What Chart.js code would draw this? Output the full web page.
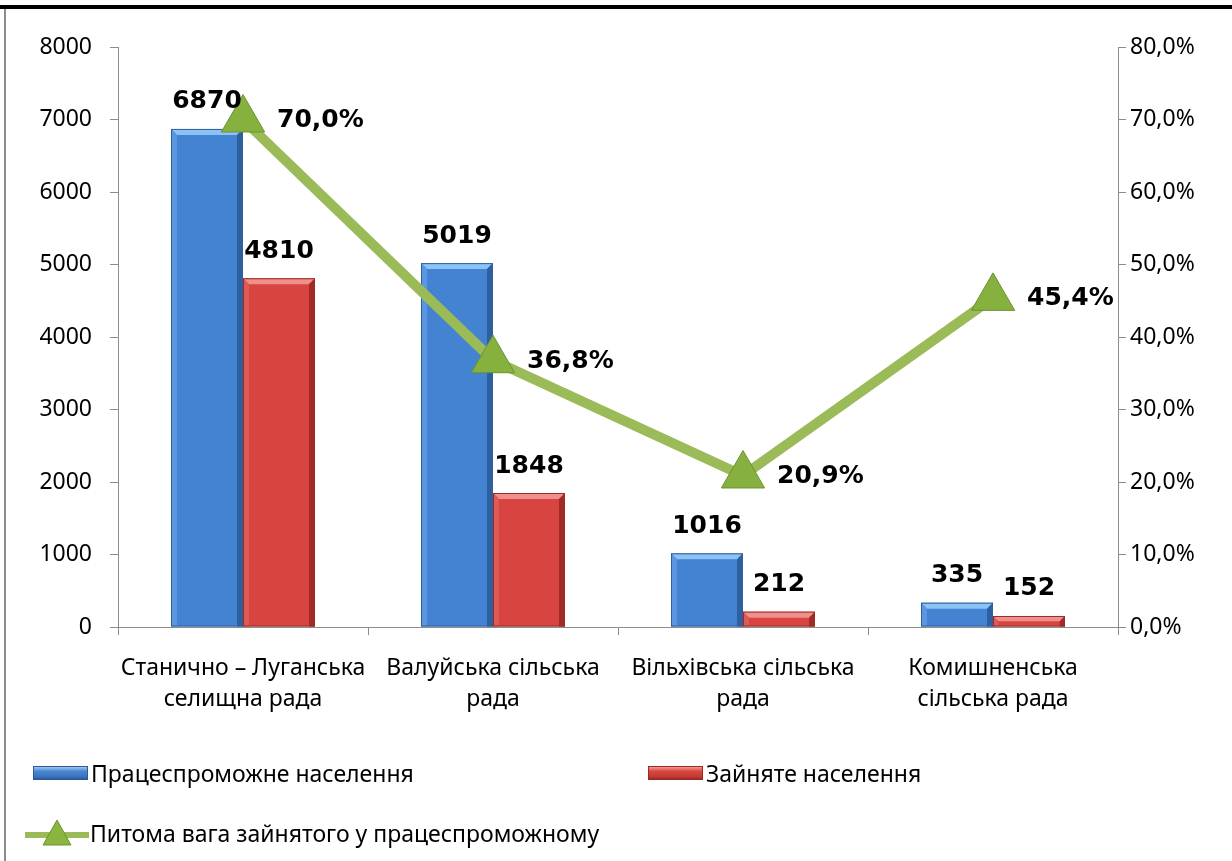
<!DOCTYPE html>
<html>
<head>
<meta charset="utf-8">
<script src="https://cdn.jsdelivr.net/npm/chart.js@4.4.1/dist/chart.umd.min.js"></script>
<style>
    body { margin: 0; background: #fff; font-family: "Noto Sans", sans-serif; }
    #wrap { position: relative; width: 1232px; height: 861px; overflow: hidden; }
    #topbar { position: absolute; left: 0; top: 5px; width: 1232px; height: 4px; background: #000; }
    #leftline { position: absolute; left: 4px; top: 9px; width: 2px; height: 852px; background: #8c8c8c; }
    #chart-box { position: absolute; left: 0; top: 0; width: 1232px; height: 861px; }
    .legend-item { position: absolute; display: flex; align-items: center; font-size: 23px; color: #000; white-space: nowrap; }
    .swatch { width: 55px; height: 14px; margin-right: 3px; box-sizing: border-box; }
    .sw-blue { background: linear-gradient(#9cc8f5, #4a86d2 35%, #3c74bd 80%, #2c5a98); border: 1px solid #2c5a98; }
    .sw-red { background: linear-gradient(#f39a98, #d9473f 35%, #c33a34 80%, #992824); border: 1px solid #992824; }
</style>
</head>
<body>
<div id="wrap">
    <div id="topbar"></div>
    <div id="leftline"></div>
    <div id="chart-box"><canvas id="chart"></canvas></div>

    <div class="legend-item" style="left:33px; top:757px;"><span class="swatch sw-blue"></span>Працеспроможне населення</div>
    <div class="legend-item" style="left:648px; top:757px;"><span class="swatch sw-red"></span>Зайняте населення</div>
    <div class="legend-item" style="left:25px; top:817px;">
        <svg width="64" height="30" style="margin-right:1px">
            <line x1="0" y1="17" x2="64" y2="17" stroke="#9bbb59" stroke-width="6"/>
            <polygon points="32,2 46,27 18,27" fill="#8ab541" stroke="#6f9433" stroke-width="1"/>
        </svg>Питома вага зайнятого у працеспроможному
    </div>
</div>

<script>
const categories = [
    ['Станично – Луганська', 'селищна рада'],
    ['Валуйська сільська', 'рада'],
    ['Вільхівська сільська', 'рада'],
    ['Комишненська', 'сільська рада']
];
const ableBodied = [6870, 5019, 1016, 335];
const employed = [4810, 1848, 212, 152];
const employedShare = [70.0, 36.8, 20.9, 45.4];

const leftTicks = [0, 1000, 2000, 3000, 4000, 5000, 6000, 7000, 8000];
const rightTicks = [0, 10, 20, 30, 40, 50, 60, 70, 80];

const fmtPct = v => v.toFixed(1).replace('.', ',') + '%';

// bevel look for the bars, drawn over each bar element
const bevelPlugin = {
    id: 'bevel',
    afterDatasetDraw(chart, args) {
        const ds = chart.data.datasets[args.index];
        if (!ds.bevel) return;
        const ctx = chart.ctx;
        args.meta.data.forEach(bar => {
            const l = bar.x - bar.width / 2, r = bar.x + bar.width / 2;
            const t = bar.y, b = bar.base;
            const e = Math.min(6, (b - t) / 2);
            ctx.save();
            ctx.fillStyle = ds.bevel.top;
            ctx.beginPath();
            ctx.moveTo(l, t); ctx.lineTo(r, t); ctx.lineTo(r - e, t + e); ctx.lineTo(l + e, t + e);
            ctx.closePath(); ctx.fill();
            ctx.fillStyle = ds.bevel.left;
            ctx.beginPath();
            ctx.moveTo(l, t); ctx.lineTo(l + e, t + e); ctx.lineTo(l + e, b); ctx.lineTo(l, b);
            ctx.closePath(); ctx.fill();
            ctx.fillStyle = ds.bevel.right;
            ctx.beginPath();
            ctx.moveTo(r, t); ctx.lineTo(r - e, t + e); ctx.lineTo(r - e, b); ctx.lineTo(r, b);
            ctx.closePath(); ctx.fill();
            ctx.strokeStyle = ds.bevel.edge;
            ctx.lineWidth = 1;
            ctx.strokeRect(l + 0.5, t + 0.5, r - l - 1, b - t - 1);
            ctx.restore();
        });
    }
};

const labelPlugin = {
    id: 'valueLabels',
    afterDatasetsDraw(chart) {
        const ctx = chart.ctx;
        ctx.save();
        ctx.font = 'bold 25px "DejaVu Sans"';
        ctx.fillStyle = '#000';
        chart.data.datasets.forEach((ds, i) => {
            const meta = chart.getDatasetMeta(i);
            meta.data.forEach((el, j) => {
                const v = ds.data[j];
                if (ds.type === 'line') {
                    ctx.textAlign = 'left';
                    ctx.textBaseline = 'middle';
                    ctx.fillText(fmtPct(v), el.x + 34, el.y + 1);
                } else {
                    ctx.textAlign = 'center';
                    ctx.textBaseline = 'middle';
                    ctx.fillText(String(v), el.x, el.y - 27);
                }
            });
        });
        ctx.restore();
    }
};

const axisGrey = '#8c8c8c';
const tickFont = { family: 'Noto Sans', size: 23 };

new Chart(document.getElementById('chart'), {
    data: {
        labels: categories,
        datasets: [
            {
                type: 'line',
                label: 'Питома вага зайнятого у працеспроможному',
                data: employedShare,
                yAxisID: 'y1',
                borderColor: '#9bbb59',
                borderWidth: 10,
                pointStyle: 'triangle',
                pointRadius: 25,
                pointHoverRadius: 25,
                pointBackgroundColor: '#86b13e',
                pointBorderColor: '#6c9232',
                pointBorderWidth: 1,
                tension: 0,
                order: 0
            },
            {
                type: 'bar',
                label: 'Працеспроможне населення',
                data: ableBodied,
                yAxisID: 'y',
                backgroundColor: '#4482d2',
                bevel: { top: '#8cc2f6', left: '#5a97e0', right: '#2e5f9e', edge: '#2f5f9c' },
                categoryPercentage: 0.576,
                barPercentage: 1,
                order: 1
            },
            {
                type: 'bar',
                label: 'Зайняте населення',
                data: employed,
                yAxisID: 'y',
                backgroundColor: '#d8443f',
                bevel: { top: '#f0908c', left: '#e05a55', right: '#a02b27', edge: '#9a2a26' },
                categoryPercentage: 0.576,
                barPercentage: 1,
                order: 1
            }
        ]
    },
    options: {
        responsive: true,
        maintainAspectRatio: false,
        animation: false,
        layout: { padding: { top: 47, left: 0, right: 0, bottom: 0 } },
        plugins: {
            legend: { display: false },
            tooltip: { enabled: false }
        },
        scales: {
            x: {
                grid: { offset: true, drawOnChartArea: false, drawTicks: true, tickLength: 8, color: axisGrey },
                border: { display: true, color: axisGrey },
                ticks: { color: '#000', font: { ...tickFont, lineHeight: 1.35 }, padding: 18, maxRotation: 0, autoSkip: false },
                afterFit(scale) { scale.height = 861 - 627; }
            },
            y: {
                position: 'left',
                min: 0,
                max: 8000,
                afterBuildTicks(scale) { scale.ticks = leftTicks.map(v => ({ value: v })); },
                grid: { drawOnChartArea: false, drawTicks: true, tickLength: 8, color: axisGrey },
                border: { display: true, color: axisGrey },
                ticks: { color: '#000', font: tickFont, padding: 18, callback: v => String(v) },
                afterFit(scale) { scale.width = 118; }
            },
            y1: {
                position: 'right',
                min: 0,
                max: 80,
                afterBuildTicks(scale) { scale.ticks = rightTicks.map(v => ({ value: v })); },
                grid: { drawOnChartArea: false, drawTicks: true, tickLength: 8, color: axisGrey },
                border: { display: true, color: axisGrey },
                ticks: { color: '#000', font: tickFont, padding: 4, callback: v => fmtPct(v) },
                afterFit(scale) { scale.width = 1232 - 1118; }
            }
        }
    },
    plugins: [bevelPlugin, labelPlugin]
});
</script>
</body>
</html>
